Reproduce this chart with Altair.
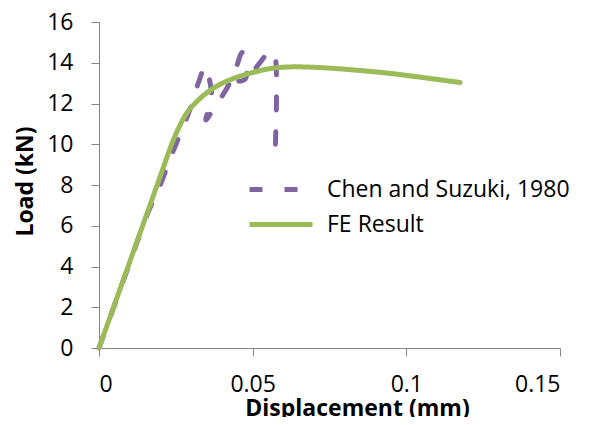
import altair as alt
import pandas as pd

# Chen and Suzuki, 1980 (path order matters)
chen_x = [0.0, 0.0094, 0.0156, 0.0199, 0.0240, 0.0275, 0.0298, 0.0322, 0.0346, 0.0358, 0.0366,
          0.0348, 0.0374, 0.0417, 0.0446, 0.0466, 0.0480, 0.0476, 0.0455, 0.0498, 0.0530,
          0.0550, 0.0563, 0.0573, 0.0574]
chen_y = [0.0, 3.92, 6.52, 8.00, 9.62, 10.90, 11.80, 12.96, 13.80, 13.26, 12.37,
          11.19, 11.78, 12.77, 13.75, 14.50, 14.10, 13.20, 13.10, 13.54, 14.13,
          14.50, 14.55, 14.30, 10.00]

# FE Result
fe_x = [0.0, 0.0133, 0.0199, 0.0242, 0.0285, 0.0318, 0.0372, 0.0426, 0.0481,
        0.0535, 0.0589, 0.0643, 0.0708, 0.0849, 0.0957, 0.1066, 0.1175]
fe_y = [0.0, 5.62, 8.41, 10.21, 11.52, 12.09, 12.75, 13.16, 13.44,
        13.65, 13.77, 13.80, 13.77, 13.62, 13.46, 13.25, 13.03]

series_names = ["Chen and Suzuki, 1980", "FE Result"]
colors = ["#8064A2", "#9BBB59"]
x_ticks = [0, 0.05, 0.1, 0.15]
y_ticks = list(range(0, 17, 2))

chen_df = pd.DataFrame({"series": series_names[0], "x": chen_x, "y": chen_y,
                        "i": list(range(len(chen_x)))})
fe_df = pd.DataFrame({"series": series_names[1], "x": fe_x, "y": fe_y,
                      "i": list(range(len(fe_x)))})

FONT = "Open Sans"

legend_cfg = dict(title=None, orient="none", legendX=148, legendY=150,
                  symbolType="stroke", symbolSize=3969, symbolStrokeWidth=5,
                  labelFontSize=23, labelFont=FONT, labelColor="#000000",
                  labelOffset=12, rowPadding=0, clipHeight=35, padding=0, labelLimit=400)

x_enc = alt.X("x:Q", scale=alt.Scale(domain=[0, 0.15], nice=False),
              axis=alt.Axis(values=x_ticks, format=".2~f",
                            title="Displacement (mm)", titleX=258, titleY=49))
y_enc = alt.Y("y:Q", scale=alt.Scale(domain=[0, 16], nice=False),
              axis=alt.Axis(values=y_ticks, title="Load (kN)", titleX=-62, titleY=159))
color_enc = alt.Color("series:N", scale=alt.Scale(domain=series_names, range=colors),
                      legend=alt.Legend(**legend_cfg))
dash_enc = alt.StrokeDash("series:N", scale=alt.Scale(domain=series_names,
                                                      range=[[13, 22], [1, 0]]),
                          legend=alt.Legend(**legend_cfg))

chen = alt.Chart(chen_df).mark_line(
    strokeWidth=5, strokeCap="round", strokeJoin="round", interpolate="catmull-rom"
).encode(x=x_enc, y=y_enc, color=color_enc, strokeDash=dash_enc, order="i:Q")

fe = alt.Chart(fe_df).mark_line(
    strokeWidth=5, strokeCap="round", strokeJoin="round", interpolate="monotone"
).encode(x=x_enc, y=y_enc, color=color_enc, strokeDash=dash_enc, order="i:Q")

chart = alt.layer(chen, fe).properties(
    width=461, height=326,
    autosize=alt.AutoSizeParams(type="none"),
    padding={"left": 91, "top": 14, "right": 25, "bottom": 69},
).configure_view(stroke=None).configure_axis(
    grid=False, domainColor="#868686", tickColor="#868686", domainWidth=1, tickWidth=1,
    tickSize=8, labelFont=FONT, labelFontSize=23, labelColor="#000000",
    titleFont=FONT, titleFontSize=23, titleFontWeight="bold", titleColor="#000000",
).configure_axisX(labelPadding=17).configure_axisY(labelPadding=18)

chart.save("out.html", embed_options={"renderer": "svg", "actions": False})
